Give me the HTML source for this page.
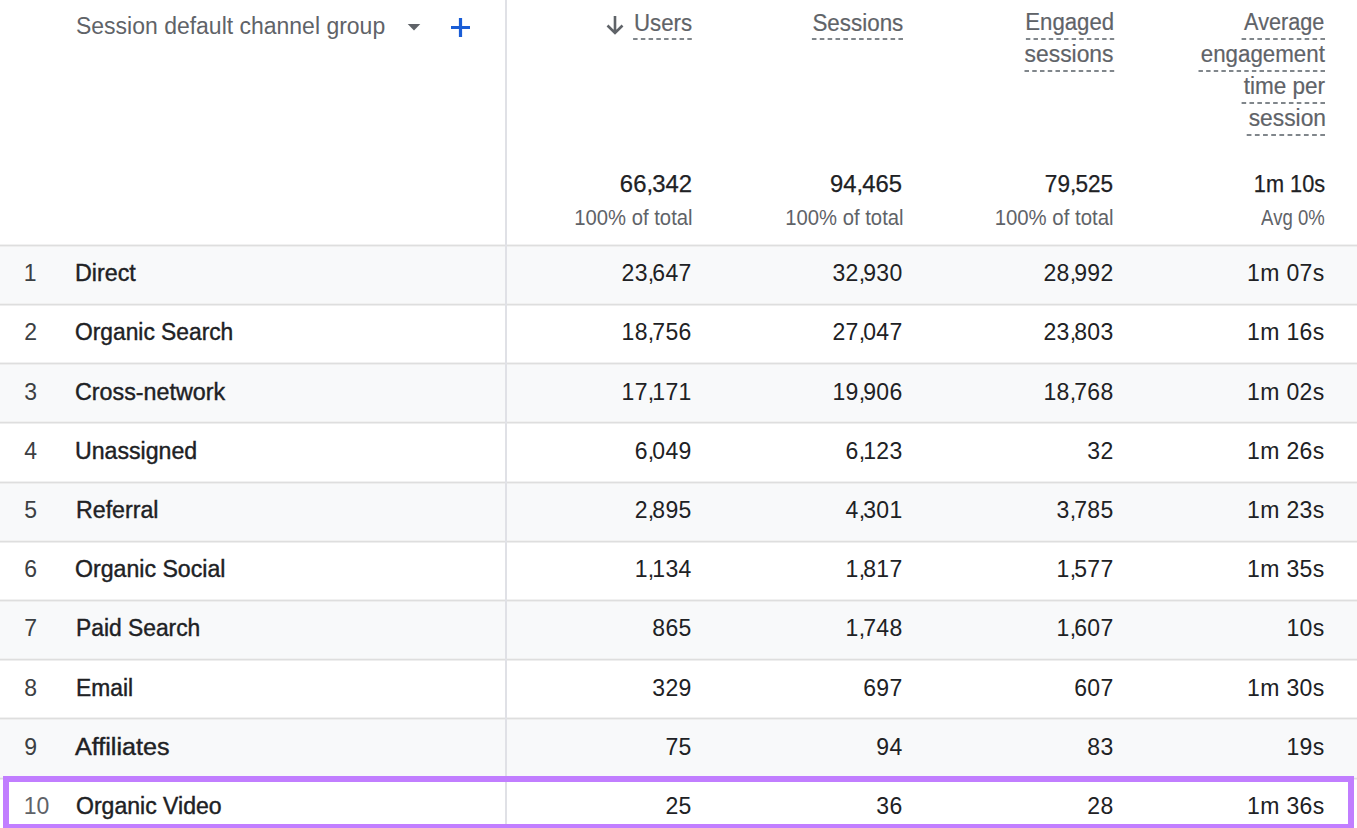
<!DOCTYPE html>
<html><head><meta charset="utf-8"><title>Session default channel group</title>
<style>
html,body{margin:0;padding:0;background:#fff;}
body{width:1357px;height:828px;overflow:hidden;position:relative;font-family:"Liberation Sans", sans-serif;}
.t{position:absolute;white-space:nowrap;font-family:"Liberation Sans", sans-serif;}
.rb{position:absolute;left:0;width:1357px;}
.hl{position:absolute;left:0;width:1357px;height:1px;background:#dedede;box-shadow:0 1px 0 #eeeeee,0 -1px 0 #f1f1f1;}
.vl{position:absolute;left:505px;top:0;width:2px;height:828px;background:#e0e1e6;}
.sel{position:absolute;left:3px;top:776px;width:1339px;height:42px;border:6px solid #c17eff;}
</style></head><body>
<div class="rb" style="top:245px;height:59px;background:#f8f9fa"></div><div class="hl" style="top:245px"></div><div class="rb" style="top:304px;height:59px;background:#ffffff"></div><div class="hl" style="top:304px"></div><div class="rb" style="top:363px;height:59px;background:#f8f9fa"></div><div class="hl" style="top:363px"></div><div class="rb" style="top:422px;height:60px;background:#ffffff"></div><div class="hl" style="top:422px"></div><div class="rb" style="top:482px;height:59px;background:#f8f9fa"></div><div class="hl" style="top:482px"></div><div class="rb" style="top:541px;height:59px;background:#ffffff"></div><div class="hl" style="top:541px"></div><div class="rb" style="top:600px;height:59px;background:#f8f9fa"></div><div class="hl" style="top:600px"></div><div class="rb" style="top:659px;height:59px;background:#ffffff"></div><div class="hl" style="top:659px"></div><div class="rb" style="top:718px;height:60px;background:#f8f9fa"></div><div class="hl" style="top:718px"></div><div class="rb" style="top:778px;height:59px;background:#ffffff"></div><div class="hl" style="top:778px"></div><svg style="position:absolute;left:0;top:0" width="1357" height="150"><g stroke="#80868b" stroke-width="2"><line x1="633.10" y1="39" x2="691.80" y2="39" stroke-dasharray="4.492 3.253"/><line x1="811.90" y1="39" x2="903.00" y2="39" stroke-dasharray="4.563 3.304"/><line x1="1025.90" y1="39" x2="1114.20" y2="39" stroke-dasharray="4.423 3.203"/><line x1="1024.50" y1="71" x2="1114.20" y2="71" stroke-dasharray="4.493 3.253"/><line x1="1241.60" y1="39" x2="1325.00" y2="39" stroke-dasharray="4.572 3.311"/><line x1="1198.50" y1="71" x2="1325.00" y2="71" stroke-dasharray="4.425 3.204"/><line x1="1241.60" y1="103" x2="1325.00" y2="103" stroke-dasharray="4.572 3.311"/><line x1="1246.70" y1="135" x2="1325.00" y2="135" stroke-dasharray="4.741 3.433"/></g></svg>
<div class="vl"></div>
<svg style="position:absolute;left:604px;top:14px" width="22" height="22" viewBox="0 0 22 22"><path d="M11 2v17M3.5 11.5L11 19l7.5-7.5" fill="none" stroke="#5f6368" stroke-width="2.6"/></svg>
<svg style="position:absolute;left:406px;top:22px" width="16" height="10" viewBox="0 0 16 10"><path d="M1.7 2h12.6L8 8.6z" fill="#5f6368"/></svg>
<svg style="position:absolute;left:449px;top:16px" width="23" height="23" viewBox="0 0 23 23"><path d="M11.5 2v19M2 11.5h19" fill="none" stroke="#1a5dd6" stroke-width="3.2"/></svg>
<span class="t" id="t0" style="top:12.33px;font-size:23.0px;line-height:28px;color:#5f6368;left:76.20px;transform:scaleX(0.9991);transform-origin:0 0;">Session default channel group</span><span class="t" id="t1" style="top:8.53px;font-size:23.0px;line-height:28px;color:#5f6368;-webkit-text-stroke:0.2px #5f6368;right:664.82px;transform:scaleX(0.9674);transform-origin:100% 0;">Users</span><span class="t" id="t2" style="top:8.53px;font-size:23.0px;line-height:28px;color:#5f6368;-webkit-text-stroke:0.2px #5f6368;right:453.62px;transform:scaleX(0.9740);transform-origin:100% 0;">Sessions</span><span class="t" id="t3" style="top:8.43px;font-size:23.0px;line-height:28px;color:#5f6368;-webkit-text-stroke:0.2px #5f6368;right:242.85px;transform:scaleX(0.9641);transform-origin:100% 0;">Engaged</span><span class="t" id="t4" style="top:40.23px;font-size:23.0px;line-height:28px;color:#5f6368;-webkit-text-stroke:0.2px #5f6368;right:243.20px;transform:scaleX(0.9931);transform-origin:100% 0;">sessions</span><span class="t" id="t5" style="top:8.43px;font-size:23.0px;line-height:28px;color:#5f6368;-webkit-text-stroke:0.2px #5f6368;right:32.42px;transform:scaleX(0.9400);transform-origin:100% 0;">Average</span><span class="t" id="t6" style="top:40.23px;font-size:23.0px;line-height:28px;color:#5f6368;-webkit-text-stroke:0.2px #5f6368;right:32.38px;transform:scaleX(0.9703);transform-origin:100% 0;">engagement</span><span class="t" id="t7" style="top:72.23px;font-size:23.0px;line-height:28px;color:#5f6368;-webkit-text-stroke:0.2px #5f6368;right:32.41px;transform:scaleX(0.9795);transform-origin:100% 0;">time per</span><span class="t" id="t8" style="top:104.23px;font-size:23.0px;line-height:28px;color:#5f6368;-webkit-text-stroke:0.2px #5f6368;right:31.41px;transform:scaleX(0.9909);transform-origin:100% 0;">session</span><span class="t" id="t9" style="top:169.75px;font-size:23.5px;line-height:28px;color:#202124;-webkit-text-stroke:0.25px #202124;right:665.18px;transform:scaleX(1.0160);transform-origin:100% 0;">66<i style="font-style:normal;margin-right:-0.8px">,</i>342</span><span class="t" id="t10" style="top:169.75px;font-size:23.5px;line-height:28px;color:#202124;-webkit-text-stroke:0.25px #202124;right:454.99px;transform:scaleX(1.0130);transform-origin:100% 0;">94<i style="font-style:normal;margin-right:-0.8px">,</i>465</span><span class="t" id="t11" style="top:169.75px;font-size:23.5px;line-height:28px;color:#202124;-webkit-text-stroke:0.25px #202124;right:243.91px;transform:scaleX(0.9601);transform-origin:100% 0;">79<i style="font-style:normal;margin-right:-0.8px">,</i>525</span><span class="t" id="t12" style="top:169.75px;font-size:23.5px;line-height:28px;color:#202124;-webkit-text-stroke:0.25px #202124;right:32.03px;transform:scaleX(0.9242);transform-origin:100% 0;">1m 10s</span><span class="t" id="t13" style="top:204.95px;font-size:21.5px;line-height:26px;color:#5f6368;right:664.45px;transform:scaleX(0.9414);transform-origin:100% 0;">100% of total</span><span class="t" id="t14" style="top:204.95px;font-size:21.5px;line-height:26px;color:#5f6368;right:453.25px;transform:scaleX(0.9414);transform-origin:100% 0;">100% of total</span><span class="t" id="t15" style="top:204.95px;font-size:21.5px;line-height:26px;color:#5f6368;right:243.05px;transform:scaleX(0.9472);transform-origin:100% 0;">100% of total</span><span class="t" id="t16" style="top:204.95px;font-size:21.5px;line-height:26px;color:#5f6368;right:32.61px;transform:scaleX(0.8630);transform-origin:100% 0;">Avg 0%</span><span class="t" id="t17" style="top:259.13px;font-size:23.0px;line-height:28px;color:#3c4043;left:23.70px;">1</span><span class="t" id="t18" style="top:259.13px;font-size:23.0px;line-height:28px;color:#202124;-webkit-text-stroke:0.4px #202124;left:75.07px;transform:scaleX(1.0119);transform-origin:0 0;">Direct</span><span class="t" id="t19" style="top:259.13px;font-size:23.0px;line-height:28px;color:#202124;letter-spacing:0.35px;right:665.25px;">23<i style="font-style:normal;margin-right:-2.3px">,</i>647</span><span class="t" id="t20" style="top:259.13px;font-size:23.0px;line-height:28px;color:#202124;letter-spacing:0.35px;right:454.45px;">32<i style="font-style:normal;margin-right:-2.3px">,</i>930</span><span class="t" id="t21" style="top:259.13px;font-size:23.0px;line-height:28px;color:#202124;letter-spacing:0.35px;right:243.45px;">28<i style="font-style:normal;margin-right:-2.3px">,</i>992</span><span class="t" id="t22" style="top:259.13px;font-size:23.0px;line-height:28px;color:#202124;letter-spacing:0.35px;right:32.45px;">1m 07s</span><span class="t" id="t23" style="top:318.33px;font-size:23.0px;line-height:28px;color:#3c4043;left:24.20px;">2</span><span class="t" id="t24" style="top:318.33px;font-size:23.0px;line-height:28px;color:#202124;-webkit-text-stroke:0.4px #202124;left:74.81px;transform:scaleX(0.9905);transform-origin:0 0;">Organic Search</span><span class="t" id="t25" style="top:318.33px;font-size:23.0px;line-height:28px;color:#202124;letter-spacing:0.35px;right:665.25px;">18<i style="font-style:normal;margin-right:-2.3px">,</i>756</span><span class="t" id="t26" style="top:318.33px;font-size:23.0px;line-height:28px;color:#202124;letter-spacing:0.35px;right:454.45px;">27<i style="font-style:normal;margin-right:-2.3px">,</i>047</span><span class="t" id="t27" style="top:318.33px;font-size:23.0px;line-height:28px;color:#202124;letter-spacing:0.35px;right:243.45px;">23<i style="font-style:normal;margin-right:-2.3px">,</i>803</span><span class="t" id="t28" style="top:318.33px;font-size:23.0px;line-height:28px;color:#202124;letter-spacing:0.35px;right:32.45px;">1m 16s</span><span class="t" id="t29" style="top:377.53px;font-size:23.0px;line-height:28px;color:#3c4043;left:24.20px;">3</span><span class="t" id="t30" style="top:377.53px;font-size:23.0px;line-height:28px;color:#202124;-webkit-text-stroke:0.4px #202124;left:74.79px;transform:scaleX(1.0122);transform-origin:0 0;">Cross-network</span><span class="t" id="t31" style="top:377.53px;font-size:23.0px;line-height:28px;color:#202124;letter-spacing:0.35px;right:665.25px;">17<i style="font-style:normal;margin-right:-2.3px">,</i>171</span><span class="t" id="t32" style="top:377.53px;font-size:23.0px;line-height:28px;color:#202124;letter-spacing:0.35px;right:454.45px;">19<i style="font-style:normal;margin-right:-2.3px">,</i>906</span><span class="t" id="t33" style="top:377.53px;font-size:23.0px;line-height:28px;color:#202124;letter-spacing:0.35px;right:243.45px;">18<i style="font-style:normal;margin-right:-2.3px">,</i>768</span><span class="t" id="t34" style="top:377.53px;font-size:23.0px;line-height:28px;color:#202124;letter-spacing:0.35px;right:32.45px;">1m 02s</span><span class="t" id="t35" style="top:436.73px;font-size:23.0px;line-height:28px;color:#3c4043;left:24.20px;">4</span><span class="t" id="t36" style="top:436.73px;font-size:23.0px;line-height:28px;color:#202124;-webkit-text-stroke:0.4px #202124;left:74.89px;transform:scaleX(1.0060);transform-origin:0 0;">Unassigned</span><span class="t" id="t37" style="top:436.73px;font-size:23.0px;line-height:28px;color:#202124;letter-spacing:0.35px;right:665.25px;">6<i style="font-style:normal;margin-right:-2.3px">,</i>049</span><span class="t" id="t38" style="top:436.73px;font-size:23.0px;line-height:28px;color:#202124;letter-spacing:0.35px;right:454.45px;">6<i style="font-style:normal;margin-right:-2.3px">,</i>123</span><span class="t" id="t39" style="top:436.73px;font-size:23.0px;line-height:28px;color:#202124;letter-spacing:0.35px;right:243.45px;">32</span><span class="t" id="t40" style="top:436.73px;font-size:23.0px;line-height:28px;color:#202124;letter-spacing:0.35px;right:32.45px;">1m 26s</span><span class="t" id="t41" style="top:495.93px;font-size:23.0px;line-height:28px;color:#3c4043;left:24.20px;">5</span><span class="t" id="t42" style="top:495.93px;font-size:23.0px;line-height:28px;color:#202124;-webkit-text-stroke:0.4px #202124;left:75.68px;transform:scaleX(1.0077);transform-origin:0 0;">Referral</span><span class="t" id="t43" style="top:495.93px;font-size:23.0px;line-height:28px;color:#202124;letter-spacing:0.35px;right:665.25px;">2<i style="font-style:normal;margin-right:-2.3px">,</i>895</span><span class="t" id="t44" style="top:495.93px;font-size:23.0px;line-height:28px;color:#202124;letter-spacing:0.35px;right:454.45px;">4<i style="font-style:normal;margin-right:-2.3px">,</i>301</span><span class="t" id="t45" style="top:495.93px;font-size:23.0px;line-height:28px;color:#202124;letter-spacing:0.35px;right:243.45px;">3<i style="font-style:normal;margin-right:-2.3px">,</i>785</span><span class="t" id="t46" style="top:495.93px;font-size:23.0px;line-height:28px;color:#202124;letter-spacing:0.35px;right:32.45px;">1m 23s</span><span class="t" id="t47" style="top:555.13px;font-size:23.0px;line-height:28px;color:#3c4043;left:24.20px;">6</span><span class="t" id="t48" style="top:555.13px;font-size:23.0px;line-height:28px;color:#202124;-webkit-text-stroke:0.4px #202124;left:74.90px;transform:scaleX(1.0055);transform-origin:0 0;">Organic Social</span><span class="t" id="t49" style="top:555.13px;font-size:23.0px;line-height:28px;color:#202124;letter-spacing:0.35px;right:665.25px;">1<i style="font-style:normal;margin-right:-2.3px">,</i>134</span><span class="t" id="t50" style="top:555.13px;font-size:23.0px;line-height:28px;color:#202124;letter-spacing:0.35px;right:454.45px;">1<i style="font-style:normal;margin-right:-2.3px">,</i>817</span><span class="t" id="t51" style="top:555.13px;font-size:23.0px;line-height:28px;color:#202124;letter-spacing:0.35px;right:243.45px;">1<i style="font-style:normal;margin-right:-2.3px">,</i>577</span><span class="t" id="t52" style="top:555.13px;font-size:23.0px;line-height:28px;color:#202124;letter-spacing:0.35px;right:32.45px;">1m 35s</span><span class="t" id="t53" style="top:614.33px;font-size:23.0px;line-height:28px;color:#3c4043;left:24.20px;">7</span><span class="t" id="t54" style="top:614.33px;font-size:23.0px;line-height:28px;color:#202124;-webkit-text-stroke:0.4px #202124;left:76.01px;transform:scaleX(0.9919);transform-origin:0 0;">Paid Search</span><span class="t" id="t55" style="top:614.33px;font-size:23.0px;line-height:28px;color:#202124;letter-spacing:0.35px;right:665.25px;">865</span><span class="t" id="t56" style="top:614.33px;font-size:23.0px;line-height:28px;color:#202124;letter-spacing:0.35px;right:454.45px;">1<i style="font-style:normal;margin-right:-2.3px">,</i>748</span><span class="t" id="t57" style="top:614.33px;font-size:23.0px;line-height:28px;color:#202124;letter-spacing:0.35px;right:243.45px;">1<i style="font-style:normal;margin-right:-2.3px">,</i>607</span><span class="t" id="t58" style="top:614.33px;font-size:23.0px;line-height:28px;color:#202124;letter-spacing:0.35px;right:32.45px;">10s</span><span class="t" id="t59" style="top:673.53px;font-size:23.0px;line-height:28px;color:#3c4043;left:24.20px;">8</span><span class="t" id="t60" style="top:673.53px;font-size:23.0px;line-height:28px;color:#202124;-webkit-text-stroke:0.4px #202124;left:75.70px;transform:scaleX(0.9912);transform-origin:0 0;">Email</span><span class="t" id="t61" style="top:673.53px;font-size:23.0px;line-height:28px;color:#202124;letter-spacing:0.35px;right:665.25px;">329</span><span class="t" id="t62" style="top:673.53px;font-size:23.0px;line-height:28px;color:#202124;letter-spacing:0.35px;right:454.45px;">697</span><span class="t" id="t63" style="top:673.53px;font-size:23.0px;line-height:28px;color:#202124;letter-spacing:0.35px;right:243.45px;">607</span><span class="t" id="t64" style="top:673.53px;font-size:23.0px;line-height:28px;color:#202124;letter-spacing:0.35px;right:32.45px;">1m 30s</span><span class="t" id="t65" style="top:732.73px;font-size:23.0px;line-height:28px;color:#3c4043;left:24.20px;">9</span><span class="t" id="t66" style="top:732.73px;font-size:23.0px;line-height:28px;color:#202124;-webkit-text-stroke:0.4px #202124;left:75.32px;transform:scaleX(1.0921);transform-origin:0 0;">Affiliates</span><span class="t" id="t67" style="top:732.73px;font-size:23.0px;line-height:28px;color:#202124;letter-spacing:0.35px;right:665.25px;">75</span><span class="t" id="t68" style="top:732.73px;font-size:23.0px;line-height:28px;color:#202124;letter-spacing:0.35px;right:454.45px;">94</span><span class="t" id="t69" style="top:732.73px;font-size:23.0px;line-height:28px;color:#202124;letter-spacing:0.35px;right:243.45px;">83</span><span class="t" id="t70" style="top:732.73px;font-size:23.0px;line-height:28px;color:#202124;letter-spacing:0.35px;right:32.45px;">19s</span><span class="t" id="t71" style="top:791.93px;font-size:23.0px;line-height:28px;color:#5f6368;left:23.70px;">10</span><span class="t" id="t72" style="top:791.93px;font-size:23.0px;line-height:28px;color:#202124;-webkit-text-stroke:0.4px #202124;left:75.70px;transform:scaleX(1.0021);transform-origin:0 0;">Organic Video</span><span class="t" id="t73" style="top:791.93px;font-size:23.0px;line-height:28px;color:#202124;letter-spacing:0.35px;right:665.25px;">25</span><span class="t" id="t74" style="top:791.93px;font-size:23.0px;line-height:28px;color:#202124;letter-spacing:0.35px;right:454.45px;">36</span><span class="t" id="t75" style="top:791.93px;font-size:23.0px;line-height:28px;color:#202124;letter-spacing:0.35px;right:243.45px;">28</span><span class="t" id="t76" style="top:791.93px;font-size:23.0px;line-height:28px;color:#202124;letter-spacing:0.35px;right:32.45px;">1m 36s</span>
<div class="sel"></div>
</body></html>
